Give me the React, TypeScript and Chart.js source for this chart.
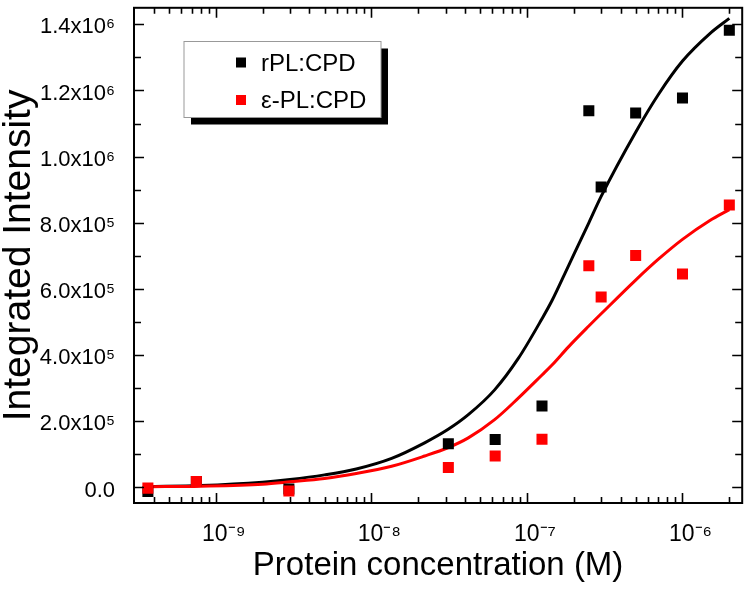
import React, { useEffect, useRef } from 'react';
import { Chart, registerables } from 'chart.js';

Chart.register(...registerables);

// ---- data ----
const seriesNames = ['rPL:CPD', 'ε-PL:CPD'];
const seriesColors = ['#000000', '#ff0000'];

// measured concentrations (M)
const pointConc = [3.66e-10, 7.5e-10, 2.95e-9, 3.125e-8, 6.25e-8, 1.25e-7, 2.5e-7, 3e-7, 5e-7, 1e-6, 2e-6];
const rplPoints = [-12000, 18000, -5000, 132000, 145000, 246000, 1139000, 908000, 1132000, 1177000, 1382000];
const eplPoints = [-2000, 18000, -11000, 60000, 95000, 146000, 670000, 576000, 701000, 645000, 854000];

// fitted curves
const curveConc = [3.66e-10, 8e-10, 2e-9, 3e-9, 5e-9, 8e-9, 1.35e-8, 2.2e-8, 3.1e-8, 4.2e-8, 6.2e-8, 8.8e-8, 1.25e-7, 1.45e-7, 1.85e-7, 2.5e-7, 3e-7, 5e-7, 7e-7, 1e-6, 1.5e-6, 2e-6];
const rplFit = [3000, 6000, 16000, 24000, 38000, 56000, 88000, 135000, 175000, 220000, 295000, 390000, 510000, 565000, 670000, 800000, 880000, 1074000, 1188000, 1289000, 1372000, 1418000];
const eplFit = [2000, 4000, 10000, 17000, 27000, 42000, 64000, 95000, 120000, 150000, 205000, 270000, 340000, 370000, 425000, 488000, 525000, 627000, 690000, 750000, 807000, 840000];

// axis ticks
const xTickValues = [
  4e-10, 5e-10, 6e-10, 7e-10, 8e-10, 9e-10,
  1e-9, 2e-9, 3e-9, 4e-9, 5e-9, 6e-9, 7e-9, 8e-9, 9e-9,
  1e-8, 2e-8, 3e-8, 4e-8, 5e-8, 6e-8, 7e-8, 8e-8, 9e-8,
  1e-7, 2e-7, 3e-7, 4e-7, 5e-7, 6e-7, 7e-7, 8e-7, 9e-7,
  1e-6, 2e-6,
];
const yTickValues = [0, 100000, 200000, 300000, 400000, 500000, 600000, 700000, 800000, 900000, 1000000, 1100000, 1200000, 1300000, 1400000];

const X_MIN = 2.98e-10;
const X_MAX = 2.42e-6;
const Y_MIN = -47000;
const Y_MAX = 1450000;

const FONT = "'Liberation Sans', Arial, Helvetica, sans-serif";

const SUP: Record<string, string> = {
  '-': '⁻', '0': '⁰', '1': '¹', '2': '²', '3': '³', '4': '⁴', '5': '⁵', '6': '⁶', '7': '⁷', '8': '⁸', '9': '⁹',
};
const sup = (s: string) => s.split('').map((c) => SUP[c] ?? c).join('');

const isDecade = (v: number) => {
  const l = Math.log10(v);
  return Math.abs(l - Math.round(l)) < 1e-6;
};

const xLabel = (v: number) => (isDecade(v) ? '10' + sup(String(Math.round(Math.log10(v)))) : '');
const yLabel = (v: number) => {
  if (v % 200000 !== 0) return '';
  if (v === 0) return '0.0';
  const e = Math.floor(Math.log10(v) + 1e-9);
  const m = v / Math.pow(10, e);
  return m.toFixed(1) + 'x10' + sup(String(e));
};

const frameTicks = {
  id: 'frameTicks',
  afterDraw(chart: any) {
    const { ctx, chartArea: a } = chart;
    const xs = chart.scales.x;
    const ys = chart.scales.y;
    ctx.save();
    ctx.strokeStyle = '#000';
    ctx.lineWidth = 1.6;
    ctx.beginPath();
    xs.ticks.forEach((t: any) => {
      const px = Math.round(xs.getPixelForValue(t.value)) + 0.5;
      const len = isDecade(t.value) ? 10 : 6;
      ctx.moveTo(px, a.bottom);
      ctx.lineTo(px, a.bottom - len);
      ctx.moveTo(px, a.top);
      ctx.lineTo(px, a.top + len);
    });
    ys.ticks.forEach((t: any) => {
      const py = Math.round(ys.getPixelForValue(t.value)) + 0.5;
      const len = t.value % 200000 === 0 ? 10 : 7;
      ctx.moveTo(a.left, py);
      ctx.lineTo(a.left + len, py);
      ctx.moveTo(a.right, py);
      ctx.lineTo(a.right - len, py);
    });
    ctx.stroke();
    ctx.lineWidth = 2;
    ctx.strokeRect(a.left, a.top, a.right - a.left, a.bottom - a.top);
    ctx.restore();
  },
};

const legendBox = {
  id: 'legendBox',
  afterDraw(chart: any) {
    const ctx = chart.ctx;
    const L = 184, T = 41.5, R = 381, B = 117.5, S = 7;
    ctx.save();
    ctx.fillStyle = '#000';
    ctx.fillRect(L + S, T + S, R - L, B - T);
    ctx.fillStyle = '#fff';
    ctx.fillRect(L, T, R - L, B - T);
    ctx.strokeStyle = '#999';
    ctx.lineWidth = 1;
    ctx.strokeRect(L, T, R - L, B - T);
    ctx.font = `24px ${FONT}`;
    ctx.textBaseline = 'alphabetic';
    ctx.textAlign = 'left';
    const rows = [62.5, 100];
    seriesNames.forEach((name, i) => {
      const cy = rows[i];
      ctx.fillStyle = seriesColors[i];
      ctx.fillRect(236, cy - 5, 10, 10);
      ctx.fillStyle = '#000';
      ctx.fillText(name, 261, cy + 8);
    });
    ctx.restore();
  },
};

export default function App() {
  const ref = useRef<HTMLCanvasElement | null>(null);

  useEffect(() => {
    if (!ref.current) return;
    const toXY = (xs: number[], ys: number[]) => xs.map((x, i) => ({ x, y: ys[i] }));
    const chart = new Chart(ref.current, {
      type: 'line',
      data: {
        datasets: [
          {
            label: seriesNames[1],
            data: toXY(pointConc, eplPoints),
            showLine: false,
            pointStyle: 'rect',
            pointRadius: 7.8,
            pointBorderWidth: 0,
            pointBackgroundColor: seriesColors[1],
            borderColor: seriesColors[1],
            order: 0,
          },
          {
            label: seriesNames[0],
            data: toXY(pointConc, rplPoints),
            showLine: false,
            pointStyle: 'rect',
            pointRadius: 7.8,
            pointBorderWidth: 0,
            pointBackgroundColor: seriesColors[0],
            borderColor: seriesColors[0],
            order: 1,
          },
          {
            label: seriesNames[1] + ' fit',
            data: toXY(curveConc, eplFit),
            borderColor: seriesColors[1],
            borderWidth: 3,
            pointRadius: 0,
            cubicInterpolationMode: 'monotone',
            fill: false,
            order: 2,
          },
          {
            label: seriesNames[0] + ' fit',
            data: toXY(curveConc, rplFit),
            borderColor: seriesColors[0],
            borderWidth: 3,
            pointRadius: 0,
            cubicInterpolationMode: 'monotone',
            fill: false,
            order: 3,
          },
        ],
      },
      options: {
        animation: false,
        responsive: false,
        devicePixelRatio: 1,
        layout: { padding: { top: 4, right: 4, left: 0, bottom: 0 } },
        plugins: { legend: { display: false }, tooltip: { enabled: false } },
        scales: {
          x: {
            type: 'logarithmic',
            min: X_MIN,
            max: X_MAX,
            grid: { display: false, drawTicks: false },
            border: { display: false },
            afterBuildTicks: (s: any) => {
              s.ticks = xTickValues.map((v) => ({ value: v }));
            },
            afterFit: (s: any) => {
              s.height = 94;
              s.paddingLeft = 0;
              s.paddingRight = 0;
            },
            ticks: {
              autoSkip: false,
              maxRotation: 0,
              minRotation: 0,
              padding: 18,
              labelOffset: 8,
              color: '#000',
              font: { family: FONT, size: 23 },
              callback: (v: any) => xLabel(Number(v)),
            },
            title: {
              display: true,
              text: 'Protein concentration (M)',
              color: '#000',
              font: { family: FONT, size: 33, lineHeight: 1 },
              padding: { top: 0, bottom: 15 },
            },
          },
          y: {
            type: 'linear',
            min: Y_MIN,
            max: Y_MAX,
            grid: { display: false, drawTicks: false },
            border: { display: false },
            afterBuildTicks: (s: any) => {
              s.ticks = yTickValues.map((v) => ({ value: v }));
            },
            afterFit: (s: any) => {
              s.width = 134;
              s.paddingTop = 0;
              s.paddingBottom = 0;
            },
            ticks: {
              autoSkip: false,
              padding: 19,
              labelOffset: 3,
              color: '#000',
              font: { family: FONT, size: 22 },
              callback: (v: any) => yLabel(Number(v)),
            },
            title: {
              display: true,
              text: 'Integrated Intensity',
              color: '#000',
              font: { family: FONT, size: 39, lineHeight: 1 },
              padding: { top: 0, bottom: 0 },
            },
          },
        },
      },
      plugins: [frameTicks, legendBox],
    } as any);
    return () => chart.destroy();
  }, []);

  return (
    <div style={{ position: 'absolute', left: 0, top: 0, width: 750, height: 597, background: '#fff' }}>
      <canvas ref={ref} width={750} height={597} />
    </div>
  );
}
